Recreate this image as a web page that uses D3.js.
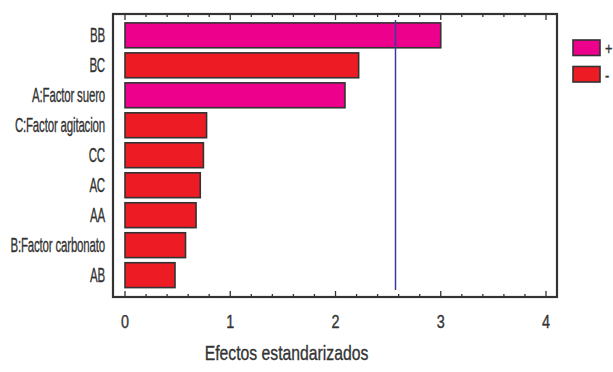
<!DOCTYPE html>
<html>
<head>
<meta charset="utf-8">
<script src="https://cdn.jsdelivr.net/npm/d3@7/dist/d3.min.js"></script>
<style>
  html, body { margin: 0; padding: 0; background: #fff; }
  svg { display: block; }
  text { font-family: "Liberation Sans", Arial, sans-serif; fill: #333; stroke: #333; stroke-width: 0.35; }
</style>
</head>
<body>
<svg id="chart" width="613" height="372"></svg>
<script>
// Pareto chart of standardized effects
const terms = ["BB", "BC", "A:Factor suero", "C:Factor agitacion", "CC", "AC", "AA", "B:Factor carbonato", "AB"];
const effects = [3.00, 2.22, 2.09, 0.775, 0.745, 0.715, 0.675, 0.575, 0.475];
const signs = ["+", "-", "+", "-", "-", "-", "-", "-", "-"];
const xTicks = [0, 1, 2, 3, 4];
const criticalValue = 2.57;
const legendItems = ["+", "-"];
const xTitle = "Efectos estandarizados";

const colors = { "+": "#ec008c", "-": "#ed1c24" };

const svg = d3.select("#chart");
const frame = { left: 113, top: 14, right: 557, bottom: 297 };

const x = d3.scaleLinear().domain([0, 4]).range([125, 546]);
const y = d3.scaleBand().domain(terms).range([20.5, 290]).paddingInner(0.17).paddingOuter(0.08);

// bars
svg.append("g").selectAll("rect")
  .data(terms)
  .join("rect")
  .attr("x", x(0))
  .attr("y", d => y(d))
  .attr("width", (d, i) => x(effects[i]) - x(0))
  .attr("height", y.bandwidth())
  .attr("fill", (d, i) => colors[signs[i]])
  .attr("stroke", "#333")
  .attr("stroke-width", 1.6);

// critical value reference line
svg.append("line")
  .attr("x1", x(criticalValue)).attr("x2", x(criticalValue))
  .attr("y1", 20).attr("y2", 290)
  .attr("stroke", "#3b3b9c")
  .attr("stroke-width", 1.5);

// plot frame
svg.append("rect")
  .attr("x", frame.left).attr("y", frame.top)
  .attr("width", frame.right - frame.left).attr("height", frame.bottom - frame.top)
  .attr("fill", "none")
  .attr("stroke", "#333")
  .attr("stroke-width", 2.2);

// inward ticks along the top and bottom edges
const minor = d3.range(0, 4.001, 0.2).map(v => +v.toFixed(1));
const isMajor = v => Math.abs(v - Math.round(v)) < 1e-6;
const tickG = svg.append("g").attr("stroke", "#333").attr("stroke-width", 1.3);
tickG.selectAll("line.b").data(minor).join("line").attr("class", "b")
  .attr("x1", d => x(d)).attr("x2", d => x(d))
  .attr("y1", frame.bottom).attr("y2", d => frame.bottom - (isMajor(d) ? 6 : 3));
tickG.selectAll("line.t").data(minor).join("line").attr("class", "t")
  .attr("x1", d => x(d)).attr("x2", d => x(d))
  .attr("y1", frame.top).attr("y2", d => frame.top + (isMajor(d) ? 6 : 3));

// x tick labels
svg.append("g").selectAll("text")
  .data(xTicks)
  .join("text")
  .attr("transform", d => `translate(${x(d)},328) scale(0.8,1)`)
  .attr("text-anchor", "middle")
  .attr("font-size", 18)
  .text(d => d);

// category labels
svg.append("g").selectAll("text")
  .data(terms)
  .join("text")
  .attr("transform", d => `translate(105,${y(d) + y.bandwidth() / 2 + 7}) scale(0.56,1)`)
  .attr("text-anchor", "end")
  .attr("font-size", 20.5)
  .attr("letter-spacing", -0.3)
  .text(d => d);

// axis title
svg.append("text")
  .attr("transform", `translate(${(205 + 368) / 2},360) scale(0.75,1)`)
  .attr("text-anchor", "middle")
  .attr("font-size", 21)
  .text(xTitle);

// legend
const legend = svg.append("g").selectAll("g")
  .data(legendItems)
  .join("g")
  .attr("transform", (d, i) => `translate(573,${40 + i * 26.5})`);
legend.append("rect")
  .attr("width", 27).attr("height", 15.5)
  .attr("fill", d => colors[d])
  .attr("stroke", "#333")
  .attr("stroke-width", 1.6);
legend.append("text")
  .attr("transform", "translate(32,14) scale(0.75,1)")
  .attr("font-size", 17)
  .text(d => d);
</script>
</body>
</html>
